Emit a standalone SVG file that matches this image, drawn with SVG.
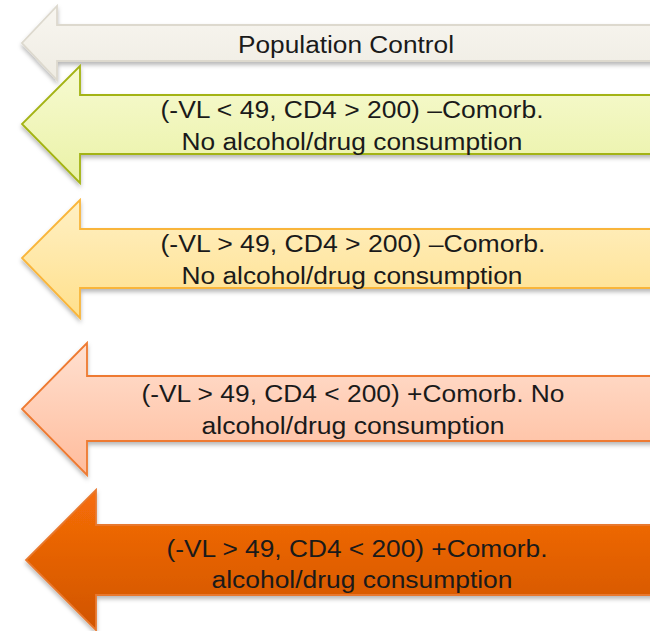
<svg xmlns="http://www.w3.org/2000/svg" width="650" height="631" viewBox="0 0 650 631">
<defs>
<style>
text{font-family:"Liberation Sans",Arial,sans-serif;font-size:23.5px;fill:#1a1a1a;text-anchor:middle}
.a{stroke-width:1.8;filter:url(#sh);stroke-linejoin:miter}
</style>
<filter id="sh" x="-10%" y="-20%" width="130%" height="150%">
<feDropShadow dx="0" dy="3" stdDeviation="2.2" flood-color="#000" flood-opacity="0.28"/>
</filter>
<linearGradient id="g1" x1="0" y1="0" x2="0" y2="1"><stop offset="0" stop-color="#F8F6F0"/><stop offset="1" stop-color="#EFECE3"/></linearGradient>
<linearGradient id="g2" x1="0" y1="0" x2="0" y2="1"><stop offset="0" stop-color="#F7FAD2"/><stop offset="1" stop-color="#EAF2A6"/></linearGradient>
<linearGradient id="g3" x1="0" y1="0" x2="0" y2="1"><stop offset="0" stop-color="#FFF0C4"/><stop offset="1" stop-color="#FFE08C"/></linearGradient>
<linearGradient id="g4" x1="0" y1="0" x2="0" y2="1"><stop offset="0" stop-color="#FFE0D0"/><stop offset="1" stop-color="#FFBC9C"/></linearGradient>
<linearGradient id="g5" x1="0" y1="0" x2="0" y2="1"><stop offset="0" stop-color="#F76E08"/><stop offset="1" stop-color="#D05400"/></linearGradient>
</defs>
<g id="arrow1">
<path class="a" d="M660,25 H57 V6 L22,43 L57,80 V61 H660 Z" fill="url(#g1)" stroke="#DDD9CE"/>
<text x="346" y="53" textLength="216" lengthAdjust="spacingAndGlyphs">Population Control</text>
</g>
<g id="arrow2">
<path class="a" d="M660,95 H80 V66 L22,124 L80,183 V154 H660 Z" fill="url(#g2)" stroke="#A3B312"/>
<text x="352" y="118" textLength="383" lengthAdjust="spacingAndGlyphs">(-VL &lt; 49, CD4 &gt; 200) –Comorb.</text>
<text x="352" y="150" textLength="341" lengthAdjust="spacingAndGlyphs">No alcohol/drug consumption</text>
</g>
<g id="arrow3">
<path class="a" d="M660,229 H80 V200 L22,258 L80,318 V288 H660 Z" fill="url(#g3)" stroke="#F9B53A"/>
<text x="353" y="252" textLength="385" lengthAdjust="spacingAndGlyphs">(-VL &gt; 49, CD4 &gt; 200) –Comorb.</text>
<text x="352" y="284" textLength="341" lengthAdjust="spacingAndGlyphs">No alcohol/drug consumption</text>
</g>
<g id="arrow4">
<path class="a" d="M660,376 H87 V343 L22,409 L87,475 V441 H660 Z" fill="url(#g4)" stroke="#EE7A30"/>
<text x="353" y="402" textLength="423" lengthAdjust="spacingAndGlyphs">(-VL &gt; 49, CD4 &lt; 200) +Comorb. No</text>
<text x="353" y="434" textLength="303" lengthAdjust="spacingAndGlyphs">alcohol/drug consumption</text>
</g>
<g id="arrow5">
<path class="a" d="M660,525 H96 V490 L26,560 L96,630 V595 H660 Z" fill="url(#g5)" stroke="#E8782E"/>
<text x="357" y="557" textLength="381" lengthAdjust="spacingAndGlyphs">(-VL &gt; 49, CD4 &lt; 200) +Comorb.</text>
<text x="362" y="588" textLength="301" lengthAdjust="spacingAndGlyphs">alcohol/drug consumption</text>
</g>
<g id="connectors"></g>
</svg>
